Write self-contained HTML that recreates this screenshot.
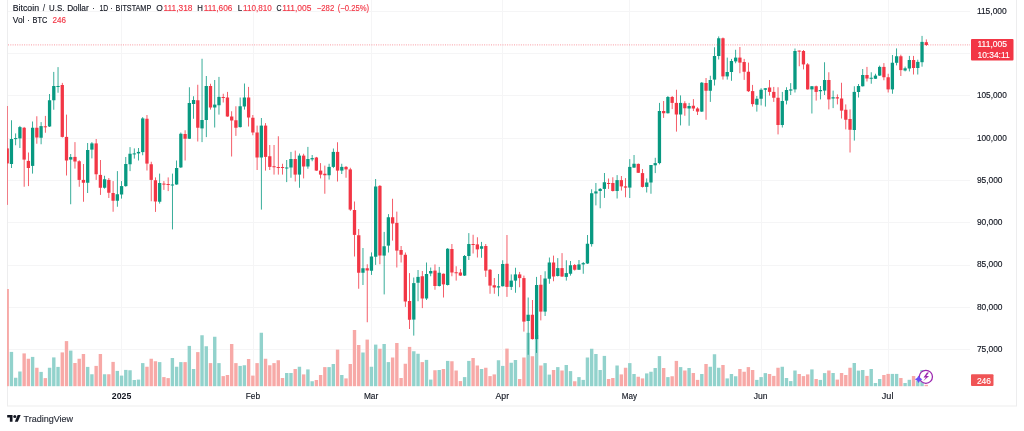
<!DOCTYPE html>
<html><head><meta charset="utf-8"><title>BTCUSD</title>
<style>
html,body{margin:0;padding:0;background:#ffffff;width:1024px;height:431px;overflow:hidden}
body{position:relative;font-family:"Liberation Sans",sans-serif;color:#131722}
svg{position:absolute;left:0;top:0}
.t{position:absolute;white-space:nowrap;line-height:1}
.hdr{font-size:8.6px;color:#131722}
.r{color:#f23645}
.ax{font-size:8.4px;color:#131722}
</style></head><body>
<svg width="1024" height="431" viewBox="0 0 1024 431">

<defs><clipPath id="pane"><rect x="7" y="0" width="963" height="386.4"/></clipPath></defs>
<rect x="8" y="11" width="962" height="1" fill="#f5f5f6"/>
<rect x="8" y="53" width="962" height="1" fill="#f5f5f6"/>
<rect x="8" y="95" width="962" height="1" fill="#f5f5f6"/>
<rect x="8" y="138" width="962" height="1" fill="#f5f5f6"/>
<rect x="8" y="180" width="962" height="1" fill="#f5f5f6"/>
<rect x="8" y="222" width="962" height="1" fill="#f5f5f6"/>
<rect x="8" y="265" width="962" height="1" fill="#f5f5f6"/>
<rect x="8" y="307" width="962" height="1" fill="#f5f5f6"/>
<rect x="8" y="349" width="962" height="1" fill="#f5f5f6"/>
<rect x="121" y="0" width="1" height="386" fill="#f5f5f6"/>
<rect x="253" y="0" width="1" height="386" fill="#f5f5f6"/>
<rect x="371" y="0" width="1" height="386" fill="#f5f5f6"/>
<rect x="502" y="0" width="1" height="386" fill="#f5f5f6"/>
<rect x="629" y="0" width="1" height="386" fill="#f5f5f6"/>
<rect x="761" y="0" width="1" height="386" fill="#f5f5f6"/>
<rect x="888" y="0" width="1" height="386" fill="#f5f5f6"/>
<rect x="7" y="0" width="1" height="406" fill="#ededee"/>
<rect x="1016" y="0" width="1" height="406" fill="#ededee"/>
<rect x="7" y="405.5" width="1010" height="1" fill="#ededee"/>
<g clip-path="url(#pane)">
<rect x="5.51" y="289.00" width="3.4" height="97.40" fill="#f7a9a7"/>
<rect x="9.74" y="351.90" width="3.4" height="34.50" fill="#92d2cc"/>
<rect x="13.98" y="377.75" width="3.4" height="8.65" fill="#92d2cc"/>
<rect x="18.21" y="371.50" width="3.4" height="14.90" fill="#92d2cc"/>
<rect x="22.45" y="353.40" width="3.4" height="33.00" fill="#f7a9a7"/>
<rect x="26.68" y="358.75" width="3.4" height="27.65" fill="#f7a9a7"/>
<rect x="30.92" y="356.90" width="3.4" height="29.50" fill="#92d2cc"/>
<rect x="35.15" y="367.75" width="3.4" height="18.65" fill="#f7a9a7"/>
<rect x="39.39" y="371.90" width="3.4" height="14.50" fill="#92d2cc"/>
<rect x="43.62" y="378.10" width="3.4" height="8.30" fill="#f7a9a7"/>
<rect x="47.86" y="367.75" width="3.4" height="18.65" fill="#92d2cc"/>
<rect x="52.10" y="357.40" width="3.4" height="29.00" fill="#92d2cc"/>
<rect x="56.33" y="366.90" width="3.4" height="19.50" fill="#92d2cc"/>
<rect x="60.57" y="352.40" width="3.4" height="34.00" fill="#f7a9a7"/>
<rect x="64.80" y="341.10" width="3.4" height="45.30" fill="#f7a9a7"/>
<rect x="69.04" y="350.60" width="3.4" height="35.80" fill="#92d2cc"/>
<rect x="73.27" y="363.00" width="3.4" height="23.40" fill="#f7a9a7"/>
<rect x="77.51" y="358.75" width="3.4" height="27.65" fill="#f7a9a7"/>
<rect x="81.74" y="354.00" width="3.4" height="32.40" fill="#f7a9a7"/>
<rect x="85.98" y="366.90" width="3.4" height="19.50" fill="#92d2cc"/>
<rect x="90.21" y="374.25" width="3.4" height="12.15" fill="#92d2cc"/>
<rect x="94.45" y="365.90" width="3.4" height="20.50" fill="#f7a9a7"/>
<rect x="98.68" y="354.00" width="3.4" height="32.40" fill="#f7a9a7"/>
<rect x="102.92" y="374.25" width="3.4" height="12.15" fill="#92d2cc"/>
<rect x="107.15" y="374.25" width="3.4" height="12.15" fill="#f7a9a7"/>
<rect x="111.39" y="361.90" width="3.4" height="24.50" fill="#f7a9a7"/>
<rect x="115.62" y="370.90" width="3.4" height="15.50" fill="#92d2cc"/>
<rect x="119.86" y="375.60" width="3.4" height="10.80" fill="#92d2cc"/>
<rect x="124.10" y="369.90" width="3.4" height="16.50" fill="#92d2cc"/>
<rect x="128.33" y="370.25" width="3.4" height="16.15" fill="#92d2cc"/>
<rect x="132.57" y="380.00" width="3.4" height="6.40" fill="#92d2cc"/>
<rect x="136.80" y="379.60" width="3.4" height="6.80" fill="#92d2cc"/>
<rect x="141.04" y="363.10" width="3.4" height="23.30" fill="#92d2cc"/>
<rect x="145.27" y="366.75" width="3.4" height="19.65" fill="#f7a9a7"/>
<rect x="149.51" y="358.75" width="3.4" height="27.65" fill="#f7a9a7"/>
<rect x="153.74" y="361.25" width="3.4" height="25.15" fill="#f7a9a7"/>
<rect x="157.98" y="362.10" width="3.4" height="24.30" fill="#92d2cc"/>
<rect x="162.21" y="377.10" width="3.4" height="9.30" fill="#f7a9a7"/>
<rect x="166.45" y="378.10" width="3.4" height="8.30" fill="#f7a9a7"/>
<rect x="170.68" y="358.00" width="3.4" height="28.40" fill="#92d2cc"/>
<rect x="174.92" y="366.75" width="3.4" height="19.65" fill="#92d2cc"/>
<rect x="179.15" y="362.10" width="3.4" height="24.30" fill="#92d2cc"/>
<rect x="183.39" y="362.10" width="3.4" height="24.30" fill="#f7a9a7"/>
<rect x="187.62" y="345.90" width="3.4" height="40.50" fill="#92d2cc"/>
<rect x="191.86" y="369.00" width="3.4" height="17.40" fill="#92d2cc"/>
<rect x="196.10" y="352.10" width="3.4" height="34.30" fill="#f7a9a7"/>
<rect x="200.33" y="335.25" width="3.4" height="51.15" fill="#92d2cc"/>
<rect x="204.57" y="346.25" width="3.4" height="40.15" fill="#92d2cc"/>
<rect x="208.80" y="363.10" width="3.4" height="23.30" fill="#f7a9a7"/>
<rect x="213.04" y="336.75" width="3.4" height="49.65" fill="#92d2cc"/>
<rect x="217.27" y="363.10" width="3.4" height="23.30" fill="#92d2cc"/>
<rect x="221.51" y="376.10" width="3.4" height="10.30" fill="#f7a9a7"/>
<rect x="225.74" y="375.00" width="3.4" height="11.40" fill="#f7a9a7"/>
<rect x="229.98" y="344.00" width="3.4" height="42.40" fill="#f7a9a7"/>
<rect x="234.21" y="363.10" width="3.4" height="23.30" fill="#f7a9a7"/>
<rect x="238.45" y="365.90" width="3.4" height="20.50" fill="#92d2cc"/>
<rect x="242.68" y="365.25" width="3.4" height="21.15" fill="#92d2cc"/>
<rect x="246.92" y="359.00" width="3.4" height="27.40" fill="#f7a9a7"/>
<rect x="251.15" y="375.60" width="3.4" height="10.80" fill="#f7a9a7"/>
<rect x="255.39" y="363.10" width="3.4" height="23.30" fill="#f7a9a7"/>
<rect x="259.62" y="332.75" width="3.4" height="53.65" fill="#92d2cc"/>
<rect x="263.86" y="358.75" width="3.4" height="27.65" fill="#f7a9a7"/>
<rect x="268.10" y="365.25" width="3.4" height="21.15" fill="#f7a9a7"/>
<rect x="272.33" y="363.10" width="3.4" height="23.30" fill="#f7a9a7"/>
<rect x="276.57" y="360.25" width="3.4" height="26.15" fill="#f7a9a7"/>
<rect x="280.80" y="378.00" width="3.4" height="8.40" fill="#f7a9a7"/>
<rect x="285.04" y="373.00" width="3.4" height="13.40" fill="#92d2cc"/>
<rect x="289.27" y="373.00" width="3.4" height="13.40" fill="#92d2cc"/>
<rect x="293.51" y="369.00" width="3.4" height="17.40" fill="#f7a9a7"/>
<rect x="297.74" y="366.75" width="3.4" height="19.65" fill="#92d2cc"/>
<rect x="301.98" y="374.40" width="3.4" height="12.00" fill="#f7a9a7"/>
<rect x="306.21" y="369.40" width="3.4" height="17.00" fill="#92d2cc"/>
<rect x="310.45" y="381.25" width="3.4" height="5.15" fill="#92d2cc"/>
<rect x="314.68" y="380.00" width="3.4" height="6.40" fill="#f7a9a7"/>
<rect x="318.92" y="375.00" width="3.4" height="11.40" fill="#f7a9a7"/>
<rect x="323.15" y="367.10" width="3.4" height="19.30" fill="#f7a9a7"/>
<rect x="327.39" y="367.10" width="3.4" height="19.30" fill="#92d2cc"/>
<rect x="331.62" y="364.00" width="3.4" height="22.40" fill="#92d2cc"/>
<rect x="335.86" y="349.60" width="3.4" height="36.80" fill="#f7a9a7"/>
<rect x="340.10" y="375.00" width="3.4" height="11.40" fill="#92d2cc"/>
<rect x="344.33" y="378.40" width="3.4" height="8.00" fill="#f7a9a7"/>
<rect x="348.57" y="364.00" width="3.4" height="22.40" fill="#f7a9a7"/>
<rect x="352.80" y="330.00" width="3.4" height="56.40" fill="#f7a9a7"/>
<rect x="357.04" y="345.00" width="3.4" height="41.40" fill="#f7a9a7"/>
<rect x="361.27" y="352.50" width="3.4" height="33.90" fill="#92d2cc"/>
<rect x="365.51" y="339.60" width="3.4" height="46.80" fill="#f7a9a7"/>
<rect x="369.74" y="366.75" width="3.4" height="19.65" fill="#92d2cc"/>
<rect x="373.98" y="344.60" width="3.4" height="41.80" fill="#92d2cc"/>
<rect x="378.21" y="348.75" width="3.4" height="37.65" fill="#f7a9a7"/>
<rect x="382.45" y="344.00" width="3.4" height="42.40" fill="#92d2cc"/>
<rect x="386.68" y="362.10" width="3.4" height="24.30" fill="#92d2cc"/>
<rect x="390.92" y="357.50" width="3.4" height="28.90" fill="#f7a9a7"/>
<rect x="395.15" y="343.00" width="3.4" height="43.40" fill="#f7a9a7"/>
<rect x="399.39" y="378.00" width="3.4" height="8.40" fill="#f7a9a7"/>
<rect x="403.63" y="363.75" width="3.4" height="22.65" fill="#f7a9a7"/>
<rect x="407.86" y="346.90" width="3.4" height="39.50" fill="#f7a9a7"/>
<rect x="412.10" y="351.25" width="3.4" height="35.15" fill="#92d2cc"/>
<rect x="416.33" y="353.75" width="3.4" height="32.65" fill="#92d2cc"/>
<rect x="420.57" y="362.10" width="3.4" height="24.30" fill="#f7a9a7"/>
<rect x="424.80" y="359.90" width="3.4" height="26.50" fill="#92d2cc"/>
<rect x="429.04" y="379.60" width="3.4" height="6.80" fill="#92d2cc"/>
<rect x="433.27" y="370.25" width="3.4" height="16.15" fill="#f7a9a7"/>
<rect x="437.51" y="370.00" width="3.4" height="16.40" fill="#92d2cc"/>
<rect x="441.74" y="369.00" width="3.4" height="17.40" fill="#f7a9a7"/>
<rect x="445.98" y="360.90" width="3.4" height="25.50" fill="#92d2cc"/>
<rect x="450.21" y="361.25" width="3.4" height="25.15" fill="#f7a9a7"/>
<rect x="454.45" y="370.50" width="3.4" height="15.90" fill="#f7a9a7"/>
<rect x="458.68" y="381.10" width="3.4" height="5.30" fill="#f7a9a7"/>
<rect x="462.92" y="377.10" width="3.4" height="9.30" fill="#92d2cc"/>
<rect x="467.15" y="360.90" width="3.4" height="25.50" fill="#92d2cc"/>
<rect x="471.39" y="358.00" width="3.4" height="28.40" fill="#f7a9a7"/>
<rect x="475.63" y="365.50" width="3.4" height="20.90" fill="#f7a9a7"/>
<rect x="479.86" y="369.00" width="3.4" height="17.40" fill="#92d2cc"/>
<rect x="484.10" y="367.75" width="3.4" height="18.65" fill="#f7a9a7"/>
<rect x="488.33" y="376.10" width="3.4" height="10.30" fill="#f7a9a7"/>
<rect x="492.57" y="374.40" width="3.4" height="12.00" fill="#f7a9a7"/>
<rect x="496.80" y="360.25" width="3.4" height="26.15" fill="#92d2cc"/>
<rect x="501.04" y="365.90" width="3.4" height="20.50" fill="#92d2cc"/>
<rect x="505.27" y="348.60" width="3.4" height="37.80" fill="#f7a9a7"/>
<rect x="509.51" y="362.75" width="3.4" height="23.65" fill="#92d2cc"/>
<rect x="513.74" y="360.00" width="3.4" height="26.40" fill="#92d2cc"/>
<rect x="517.98" y="379.00" width="3.4" height="7.40" fill="#f7a9a7"/>
<rect x="522.21" y="357.50" width="3.4" height="28.90" fill="#f7a9a7"/>
<rect x="526.45" y="332.80" width="3.4" height="53.60" fill="#92d2cc"/>
<rect x="530.68" y="356.25" width="3.4" height="30.15" fill="#f7a9a7"/>
<rect x="534.92" y="335.00" width="3.4" height="51.40" fill="#92d2cc"/>
<rect x="539.15" y="365.50" width="3.4" height="20.90" fill="#f7a9a7"/>
<rect x="543.39" y="363.10" width="3.4" height="23.30" fill="#92d2cc"/>
<rect x="547.63" y="374.60" width="3.4" height="11.80" fill="#92d2cc"/>
<rect x="551.86" y="370.00" width="3.4" height="16.40" fill="#f7a9a7"/>
<rect x="556.10" y="367.10" width="3.4" height="19.30" fill="#92d2cc"/>
<rect x="560.33" y="370.50" width="3.4" height="15.90" fill="#f7a9a7"/>
<rect x="564.57" y="365.00" width="3.4" height="21.40" fill="#92d2cc"/>
<rect x="568.80" y="371.10" width="3.4" height="15.30" fill="#92d2cc"/>
<rect x="573.04" y="381.25" width="3.4" height="5.15" fill="#f7a9a7"/>
<rect x="577.27" y="377.10" width="3.4" height="9.30" fill="#92d2cc"/>
<rect x="581.51" y="379.90" width="3.4" height="6.50" fill="#92d2cc"/>
<rect x="585.74" y="357.50" width="3.4" height="28.90" fill="#92d2cc"/>
<rect x="589.98" y="348.75" width="3.4" height="37.65" fill="#92d2cc"/>
<rect x="594.21" y="354.00" width="3.4" height="32.40" fill="#92d2cc"/>
<rect x="598.45" y="370.00" width="3.4" height="16.40" fill="#92d2cc"/>
<rect x="602.68" y="355.90" width="3.4" height="30.50" fill="#92d2cc"/>
<rect x="606.92" y="379.00" width="3.4" height="7.40" fill="#f7a9a7"/>
<rect x="611.15" y="378.00" width="3.4" height="8.40" fill="#f7a9a7"/>
<rect x="615.39" y="365.50" width="3.4" height="20.90" fill="#92d2cc"/>
<rect x="619.63" y="374.40" width="3.4" height="12.00" fill="#f7a9a7"/>
<rect x="623.86" y="367.75" width="3.4" height="18.65" fill="#f7a9a7"/>
<rect x="628.10" y="363.10" width="3.4" height="23.30" fill="#92d2cc"/>
<rect x="632.33" y="374.00" width="3.4" height="12.40" fill="#92d2cc"/>
<rect x="636.57" y="376.75" width="3.4" height="9.65" fill="#f7a9a7"/>
<rect x="640.80" y="378.40" width="3.4" height="8.00" fill="#f7a9a7"/>
<rect x="645.04" y="373.40" width="3.4" height="13.00" fill="#92d2cc"/>
<rect x="649.27" y="371.75" width="3.4" height="14.65" fill="#92d2cc"/>
<rect x="653.51" y="368.00" width="3.4" height="18.40" fill="#92d2cc"/>
<rect x="657.74" y="356.10" width="3.4" height="30.30" fill="#92d2cc"/>
<rect x="661.98" y="368.00" width="3.4" height="18.40" fill="#f7a9a7"/>
<rect x="666.21" y="377.10" width="3.4" height="9.30" fill="#92d2cc"/>
<rect x="670.45" y="376.25" width="3.4" height="10.15" fill="#f7a9a7"/>
<rect x="674.68" y="360.90" width="3.4" height="25.50" fill="#f7a9a7"/>
<rect x="678.92" y="367.10" width="3.4" height="19.30" fill="#92d2cc"/>
<rect x="683.15" y="370.50" width="3.4" height="15.90" fill="#f7a9a7"/>
<rect x="687.39" y="368.00" width="3.4" height="18.40" fill="#92d2cc"/>
<rect x="691.63" y="373.00" width="3.4" height="13.40" fill="#f7a9a7"/>
<rect x="695.86" y="379.90" width="3.4" height="6.50" fill="#f7a9a7"/>
<rect x="700.10" y="374.00" width="3.4" height="12.40" fill="#92d2cc"/>
<rect x="704.33" y="364.00" width="3.4" height="22.40" fill="#f7a9a7"/>
<rect x="708.57" y="366.75" width="3.4" height="19.65" fill="#92d2cc"/>
<rect x="712.80" y="354.25" width="3.4" height="32.15" fill="#92d2cc"/>
<rect x="717.04" y="367.75" width="3.4" height="18.65" fill="#92d2cc"/>
<rect x="721.27" y="365.00" width="3.4" height="21.40" fill="#f7a9a7"/>
<rect x="725.51" y="378.40" width="3.4" height="8.00" fill="#92d2cc"/>
<rect x="729.74" y="374.00" width="3.4" height="12.40" fill="#92d2cc"/>
<rect x="733.98" y="376.25" width="3.4" height="10.15" fill="#92d2cc"/>
<rect x="738.21" y="369.00" width="3.4" height="17.40" fill="#f7a9a7"/>
<rect x="742.45" y="371.75" width="3.4" height="14.65" fill="#f7a9a7"/>
<rect x="746.68" y="367.10" width="3.4" height="19.30" fill="#f7a9a7"/>
<rect x="750.92" y="370.00" width="3.4" height="16.40" fill="#f7a9a7"/>
<rect x="755.15" y="379.90" width="3.4" height="6.50" fill="#92d2cc"/>
<rect x="759.39" y="377.10" width="3.4" height="9.30" fill="#92d2cc"/>
<rect x="763.63" y="373.10" width="3.4" height="13.30" fill="#92d2cc"/>
<rect x="767.86" y="374.00" width="3.4" height="12.40" fill="#f7a9a7"/>
<rect x="772.10" y="375.90" width="3.4" height="10.50" fill="#f7a9a7"/>
<rect x="776.33" y="367.75" width="3.4" height="18.65" fill="#f7a9a7"/>
<rect x="780.57" y="366.75" width="3.4" height="19.65" fill="#92d2cc"/>
<rect x="784.80" y="378.00" width="3.4" height="8.40" fill="#92d2cc"/>
<rect x="789.04" y="381.10" width="3.4" height="5.30" fill="#92d2cc"/>
<rect x="793.27" y="370.50" width="3.4" height="15.90" fill="#92d2cc"/>
<rect x="797.51" y="374.00" width="3.4" height="12.40" fill="#f7a9a7"/>
<rect x="801.74" y="376.10" width="3.4" height="10.30" fill="#f7a9a7"/>
<rect x="805.98" y="374.40" width="3.4" height="12.00" fill="#f7a9a7"/>
<rect x="810.21" y="369.40" width="3.4" height="17.00" fill="#92d2cc"/>
<rect x="814.45" y="379.00" width="3.4" height="7.40" fill="#f7a9a7"/>
<rect x="818.68" y="379.90" width="3.4" height="6.50" fill="#92d2cc"/>
<rect x="822.92" y="373.10" width="3.4" height="13.30" fill="#92d2cc"/>
<rect x="827.16" y="370.50" width="3.4" height="15.90" fill="#f7a9a7"/>
<rect x="831.39" y="373.00" width="3.4" height="13.40" fill="#92d2cc"/>
<rect x="835.63" y="379.60" width="3.4" height="6.80" fill="#f7a9a7"/>
<rect x="839.86" y="373.00" width="3.4" height="13.40" fill="#f7a9a7"/>
<rect x="844.10" y="375.00" width="3.4" height="11.40" fill="#f7a9a7"/>
<rect x="848.33" y="367.75" width="3.4" height="18.65" fill="#f7a9a7"/>
<rect x="852.57" y="363.00" width="3.4" height="23.40" fill="#92d2cc"/>
<rect x="856.80" y="370.60" width="3.4" height="15.80" fill="#92d2cc"/>
<rect x="861.04" y="370.00" width="3.4" height="16.40" fill="#92d2cc"/>
<rect x="865.27" y="375.90" width="3.4" height="10.50" fill="#f7a9a7"/>
<rect x="869.51" y="369.00" width="3.4" height="17.40" fill="#92d2cc"/>
<rect x="873.74" y="383.00" width="3.4" height="3.40" fill="#92d2cc"/>
<rect x="877.98" y="379.00" width="3.4" height="7.40" fill="#92d2cc"/>
<rect x="882.21" y="375.00" width="3.4" height="11.40" fill="#f7a9a7"/>
<rect x="886.45" y="373.90" width="3.4" height="12.50" fill="#f7a9a7"/>
<rect x="890.68" y="373.90" width="3.4" height="12.50" fill="#92d2cc"/>
<rect x="894.92" y="373.90" width="3.4" height="12.50" fill="#92d2cc"/>
<rect x="899.16" y="378.00" width="3.4" height="8.40" fill="#f7a9a7"/>
<rect x="903.39" y="383.00" width="3.4" height="3.40" fill="#92d2cc"/>
<rect x="907.63" y="379.80" width="3.4" height="6.60" fill="#92d2cc"/>
<rect x="911.86" y="376.00" width="3.4" height="10.40" fill="#f7a9a7"/>
<rect x="916.10" y="380.75" width="3.4" height="5.65" fill="#92d2cc"/>
<rect x="920.33" y="370.00" width="3.4" height="16.40" fill="#92d2cc"/>
<rect x="924.57" y="384.80" width="3.4" height="1.60" fill="#f7a9a7"/>
<rect x="6.81" y="106.00" width="0.8" height="98.90" fill="#f23645"/>
<rect x="5.56" y="148.40" width="3.3" height="15.00" fill="#f23645"/>
<rect x="11.04" y="120.25" width="0.8" height="47.75" fill="#089981"/>
<rect x="9.79" y="139.00" width="3.3" height="25.00" fill="#089981"/>
<rect x="15.28" y="133.40" width="0.8" height="11.85" fill="#089981"/>
<rect x="14.03" y="138.10" width="3.3" height="1.00" fill="#089981"/>
<rect x="19.51" y="125.90" width="0.8" height="22.10" fill="#089981"/>
<rect x="18.26" y="127.10" width="3.3" height="11.30" fill="#089981"/>
<rect x="23.75" y="126.90" width="0.8" height="59.85" fill="#f23645"/>
<rect x="22.50" y="127.75" width="3.3" height="31.85" fill="#f23645"/>
<rect x="27.98" y="152.50" width="0.8" height="33.60" fill="#f23645"/>
<rect x="26.73" y="160.90" width="3.3" height="7.10" fill="#f23645"/>
<rect x="32.22" y="121.50" width="0.8" height="52.10" fill="#089981"/>
<rect x="30.97" y="127.75" width="3.3" height="38.15" fill="#089981"/>
<rect x="36.45" y="116.25" width="0.8" height="27.50" fill="#f23645"/>
<rect x="35.20" y="127.75" width="3.3" height="9.75" fill="#f23645"/>
<rect x="40.69" y="122.10" width="0.8" height="22.15" fill="#089981"/>
<rect x="39.44" y="126.10" width="3.3" height="11.65" fill="#089981"/>
<rect x="44.92" y="115.90" width="0.8" height="16.85" fill="#f23645"/>
<rect x="43.67" y="126.30" width="3.3" height="1.00" fill="#f23645"/>
<rect x="49.16" y="94.00" width="0.8" height="33.00" fill="#089981"/>
<rect x="47.91" y="100.25" width="3.3" height="26.25" fill="#089981"/>
<rect x="53.40" y="71.90" width="0.8" height="37.85" fill="#089981"/>
<rect x="52.15" y="86.00" width="3.3" height="14.25" fill="#089981"/>
<rect x="57.63" y="67.10" width="0.8" height="25.65" fill="#089981"/>
<rect x="56.38" y="86.00" width="3.3" height="1.00" fill="#089981"/>
<rect x="61.87" y="82.90" width="0.8" height="54.60" fill="#f23645"/>
<rect x="60.62" y="85.00" width="3.3" height="51.90" fill="#f23645"/>
<rect x="66.10" y="114.60" width="0.8" height="60.90" fill="#f23645"/>
<rect x="64.85" y="136.90" width="3.3" height="23.60" fill="#f23645"/>
<rect x="70.34" y="154.00" width="0.8" height="50.25" fill="#089981"/>
<rect x="69.09" y="157.10" width="3.3" height="2.50" fill="#089981"/>
<rect x="74.57" y="142.10" width="0.8" height="26.50" fill="#f23645"/>
<rect x="73.32" y="156.90" width="3.3" height="4.60" fill="#f23645"/>
<rect x="78.81" y="160.25" width="0.8" height="26.50" fill="#f23645"/>
<rect x="77.56" y="161.25" width="3.3" height="18.65" fill="#f23645"/>
<rect x="83.04" y="164.00" width="0.8" height="37.75" fill="#f23645"/>
<rect x="81.79" y="179.90" width="3.3" height="2.85" fill="#f23645"/>
<rect x="87.28" y="143.00" width="0.8" height="50.00" fill="#089981"/>
<rect x="86.03" y="150.00" width="3.3" height="32.75" fill="#089981"/>
<rect x="91.51" y="142.10" width="0.8" height="16.30" fill="#089981"/>
<rect x="90.26" y="143.40" width="3.3" height="6.20" fill="#089981"/>
<rect x="95.75" y="139.00" width="0.8" height="40.90" fill="#f23645"/>
<rect x="94.50" y="143.40" width="3.3" height="30.85" fill="#f23645"/>
<rect x="99.98" y="160.00" width="0.8" height="34.90" fill="#f23645"/>
<rect x="98.73" y="174.90" width="3.3" height="12.85" fill="#f23645"/>
<rect x="104.22" y="175.75" width="0.8" height="12.85" fill="#089981"/>
<rect x="102.97" y="179.25" width="3.3" height="8.50" fill="#089981"/>
<rect x="108.45" y="178.00" width="0.8" height="20.00" fill="#f23645"/>
<rect x="107.20" y="179.90" width="3.3" height="12.85" fill="#f23645"/>
<rect x="112.69" y="181.10" width="0.8" height="30.65" fill="#f23645"/>
<rect x="111.44" y="193.00" width="3.3" height="7.75" fill="#f23645"/>
<rect x="116.92" y="171.10" width="0.8" height="35.65" fill="#089981"/>
<rect x="115.67" y="194.25" width="3.3" height="6.50" fill="#089981"/>
<rect x="121.16" y="181.10" width="0.8" height="17.50" fill="#089981"/>
<rect x="119.91" y="186.10" width="3.3" height="8.40" fill="#089981"/>
<rect x="125.40" y="157.00" width="0.8" height="29.75" fill="#089981"/>
<rect x="124.15" y="164.00" width="3.3" height="22.10" fill="#089981"/>
<rect x="129.63" y="147.10" width="0.8" height="24.00" fill="#089981"/>
<rect x="128.38" y="153.75" width="3.3" height="10.50" fill="#089981"/>
<rect x="133.87" y="148.40" width="0.8" height="10.20" fill="#089981"/>
<rect x="132.62" y="153.40" width="3.3" height="1.00" fill="#089981"/>
<rect x="138.10" y="148.00" width="0.8" height="12.50" fill="#089981"/>
<rect x="136.85" y="151.90" width="3.3" height="1.50" fill="#089981"/>
<rect x="142.34" y="117.10" width="0.8" height="38.15" fill="#089981"/>
<rect x="141.09" y="118.40" width="3.3" height="33.70" fill="#089981"/>
<rect x="146.57" y="115.00" width="0.8" height="55.50" fill="#f23645"/>
<rect x="145.32" y="118.75" width="3.3" height="44.85" fill="#f23645"/>
<rect x="150.81" y="161.75" width="0.8" height="39.50" fill="#f23645"/>
<rect x="149.56" y="164.25" width="3.3" height="15.65" fill="#f23645"/>
<rect x="155.04" y="177.40" width="0.8" height="34.50" fill="#f23645"/>
<rect x="153.79" y="180.25" width="3.3" height="21.25" fill="#f23645"/>
<rect x="159.28" y="173.60" width="0.8" height="30.00" fill="#089981"/>
<rect x="158.03" y="183.00" width="3.3" height="18.75" fill="#089981"/>
<rect x="163.51" y="181.10" width="0.8" height="8.80" fill="#f23645"/>
<rect x="162.26" y="183.60" width="3.3" height="1.00" fill="#f23645"/>
<rect x="167.75" y="177.40" width="0.8" height="13.70" fill="#f23645"/>
<rect x="166.50" y="184.00" width="3.3" height="1.00" fill="#f23645"/>
<rect x="171.98" y="173.60" width="0.8" height="55.80" fill="#089981"/>
<rect x="170.73" y="184.50" width="3.3" height="1.00" fill="#089981"/>
<rect x="176.22" y="160.50" width="0.8" height="24.30" fill="#089981"/>
<rect x="174.97" y="168.00" width="3.3" height="16.50" fill="#089981"/>
<rect x="180.45" y="132.50" width="0.8" height="35.50" fill="#089981"/>
<rect x="179.20" y="133.75" width="3.3" height="33.65" fill="#089981"/>
<rect x="184.69" y="130.25" width="0.8" height="30.25" fill="#f23645"/>
<rect x="183.44" y="134.00" width="3.3" height="4.75" fill="#f23645"/>
<rect x="188.92" y="87.25" width="0.8" height="51.75" fill="#089981"/>
<rect x="187.67" y="103.00" width="3.3" height="35.75" fill="#089981"/>
<rect x="193.16" y="96.25" width="0.8" height="22.50" fill="#089981"/>
<rect x="191.91" y="100.00" width="3.3" height="4.00" fill="#089981"/>
<rect x="197.40" y="84.75" width="0.8" height="56.75" fill="#f23645"/>
<rect x="196.15" y="100.25" width="3.3" height="27.50" fill="#f23645"/>
<rect x="201.63" y="58.75" width="0.8" height="83.35" fill="#089981"/>
<rect x="200.38" y="120.00" width="3.3" height="8.40" fill="#089981"/>
<rect x="205.87" y="76.00" width="0.8" height="61.10" fill="#089981"/>
<rect x="204.62" y="86.00" width="3.3" height="34.00" fill="#089981"/>
<rect x="210.10" y="83.75" width="0.8" height="25.85" fill="#f23645"/>
<rect x="208.85" y="86.00" width="3.3" height="21.50" fill="#f23645"/>
<rect x="214.34" y="80.00" width="0.8" height="47.50" fill="#089981"/>
<rect x="213.09" y="104.60" width="3.3" height="2.90" fill="#089981"/>
<rect x="218.57" y="76.90" width="0.8" height="37.70" fill="#089981"/>
<rect x="217.32" y="96.90" width="3.3" height="8.35" fill="#089981"/>
<rect x="222.81" y="93.75" width="0.8" height="8.75" fill="#f23645"/>
<rect x="221.56" y="97.00" width="3.3" height="1.00" fill="#f23645"/>
<rect x="227.04" y="91.90" width="0.8" height="24.90" fill="#f23645"/>
<rect x="225.79" y="97.50" width="3.3" height="19.00" fill="#f23645"/>
<rect x="231.28" y="111.25" width="0.8" height="45.25" fill="#f23645"/>
<rect x="230.03" y="116.50" width="3.3" height="4.00" fill="#f23645"/>
<rect x="235.51" y="106.25" width="0.8" height="29.65" fill="#f23645"/>
<rect x="234.26" y="120.25" width="3.3" height="7.50" fill="#f23645"/>
<rect x="239.75" y="97.50" width="0.8" height="30.00" fill="#089981"/>
<rect x="238.50" y="106.25" width="3.3" height="20.85" fill="#089981"/>
<rect x="243.98" y="83.50" width="0.8" height="26.10" fill="#089981"/>
<rect x="242.73" y="97.50" width="3.3" height="9.00" fill="#089981"/>
<rect x="248.22" y="86.90" width="0.8" height="39.60" fill="#f23645"/>
<rect x="246.97" y="97.50" width="3.3" height="20.00" fill="#f23645"/>
<rect x="252.45" y="115.00" width="0.8" height="20.25" fill="#f23645"/>
<rect x="251.20" y="117.75" width="3.3" height="14.75" fill="#f23645"/>
<rect x="256.69" y="125.60" width="0.8" height="44.40" fill="#f23645"/>
<rect x="255.44" y="132.50" width="3.3" height="25.00" fill="#f23645"/>
<rect x="260.92" y="118.00" width="0.8" height="91.60" fill="#089981"/>
<rect x="259.67" y="125.60" width="3.3" height="31.90" fill="#089981"/>
<rect x="265.16" y="123.10" width="0.8" height="47.50" fill="#f23645"/>
<rect x="263.91" y="125.60" width="3.3" height="31.30" fill="#f23645"/>
<rect x="269.40" y="145.00" width="0.8" height="25.00" fill="#f23645"/>
<rect x="268.15" y="156.25" width="3.3" height="10.65" fill="#f23645"/>
<rect x="273.63" y="145.00" width="0.8" height="29.60" fill="#f23645"/>
<rect x="272.38" y="166.25" width="3.3" height="1.00" fill="#f23645"/>
<rect x="277.87" y="136.25" width="0.8" height="38.35" fill="#f23645"/>
<rect x="276.62" y="167.00" width="3.3" height="1.00" fill="#f23645"/>
<rect x="282.10" y="163.75" width="0.8" height="10.85" fill="#f23645"/>
<rect x="280.85" y="167.00" width="3.3" height="1.00" fill="#f23645"/>
<rect x="286.34" y="160.00" width="0.8" height="22.10" fill="#089981"/>
<rect x="285.09" y="167.50" width="3.3" height="1.00" fill="#089981"/>
<rect x="290.57" y="151.90" width="0.8" height="25.85" fill="#089981"/>
<rect x="289.32" y="159.00" width="3.3" height="8.50" fill="#089981"/>
<rect x="294.81" y="150.60" width="0.8" height="30.90" fill="#f23645"/>
<rect x="293.56" y="159.00" width="3.3" height="15.60" fill="#f23645"/>
<rect x="299.04" y="153.50" width="0.8" height="34.25" fill="#089981"/>
<rect x="297.79" y="155.60" width="3.3" height="19.00" fill="#089981"/>
<rect x="303.28" y="153.75" width="0.8" height="24.65" fill="#f23645"/>
<rect x="302.03" y="155.60" width="3.3" height="10.90" fill="#f23645"/>
<rect x="307.51" y="146.90" width="0.8" height="21.85" fill="#089981"/>
<rect x="306.26" y="159.00" width="3.3" height="7.50" fill="#089981"/>
<rect x="311.75" y="155.00" width="0.8" height="6.25" fill="#089981"/>
<rect x="310.50" y="158.10" width="3.3" height="1.30" fill="#089981"/>
<rect x="315.98" y="156.90" width="0.8" height="13.90" fill="#f23645"/>
<rect x="314.73" y="157.50" width="3.3" height="13.10" fill="#f23645"/>
<rect x="320.22" y="163.10" width="0.8" height="15.30" fill="#f23645"/>
<rect x="318.97" y="170.60" width="3.3" height="4.00" fill="#f23645"/>
<rect x="324.45" y="165.60" width="0.8" height="28.15" fill="#f23645"/>
<rect x="323.20" y="173.75" width="3.3" height="1.50" fill="#f23645"/>
<rect x="328.69" y="163.75" width="0.8" height="15.85" fill="#089981"/>
<rect x="327.44" y="166.90" width="3.3" height="8.35" fill="#089981"/>
<rect x="332.93" y="148.50" width="0.8" height="19.60" fill="#089981"/>
<rect x="331.68" y="151.90" width="3.3" height="15.00" fill="#089981"/>
<rect x="337.16" y="142.25" width="0.8" height="39.25" fill="#f23645"/>
<rect x="335.91" y="151.90" width="3.3" height="18.70" fill="#f23645"/>
<rect x="341.40" y="163.75" width="0.8" height="10.25" fill="#089981"/>
<rect x="340.15" y="166.90" width="3.3" height="3.70" fill="#089981"/>
<rect x="345.63" y="166.00" width="0.8" height="11.75" fill="#f23645"/>
<rect x="344.38" y="166.90" width="3.3" height="2.50" fill="#f23645"/>
<rect x="349.87" y="167.75" width="0.8" height="43.15" fill="#f23645"/>
<rect x="348.62" y="169.40" width="3.3" height="40.20" fill="#f23645"/>
<rect x="354.10" y="201.50" width="0.8" height="55.00" fill="#f23645"/>
<rect x="352.85" y="210.00" width="3.3" height="24.90" fill="#f23645"/>
<rect x="358.34" y="229.00" width="0.8" height="59.75" fill="#f23645"/>
<rect x="357.09" y="235.25" width="3.3" height="37.50" fill="#f23645"/>
<rect x="362.57" y="248.00" width="0.8" height="37.00" fill="#089981"/>
<rect x="361.32" y="268.25" width="3.3" height="4.50" fill="#089981"/>
<rect x="366.81" y="264.25" width="0.8" height="58.00" fill="#f23645"/>
<rect x="365.56" y="268.25" width="3.3" height="2.25" fill="#f23645"/>
<rect x="371.04" y="252.40" width="0.8" height="22.50" fill="#089981"/>
<rect x="369.79" y="256.50" width="3.3" height="14.25" fill="#089981"/>
<rect x="375.28" y="179.00" width="0.8" height="85.90" fill="#089981"/>
<rect x="374.03" y="186.50" width="3.3" height="70.25" fill="#089981"/>
<rect x="379.51" y="185.00" width="0.8" height="79.25" fill="#f23645"/>
<rect x="378.26" y="185.90" width="3.3" height="69.60" fill="#f23645"/>
<rect x="383.75" y="231.90" width="0.8" height="62.50" fill="#089981"/>
<rect x="382.50" y="246.25" width="3.3" height="9.35" fill="#089981"/>
<rect x="387.98" y="214.10" width="0.8" height="38.40" fill="#089981"/>
<rect x="386.73" y="217.25" width="3.3" height="28.35" fill="#089981"/>
<rect x="392.22" y="198.75" width="0.8" height="41.85" fill="#f23645"/>
<rect x="390.97" y="217.25" width="3.3" height="6.25" fill="#f23645"/>
<rect x="396.45" y="211.60" width="0.8" height="55.90" fill="#f23645"/>
<rect x="395.20" y="222.90" width="3.3" height="27.70" fill="#f23645"/>
<rect x="400.69" y="246.00" width="0.8" height="16.50" fill="#f23645"/>
<rect x="399.44" y="250.00" width="3.3" height="4.75" fill="#f23645"/>
<rect x="404.93" y="252.50" width="0.8" height="54.40" fill="#f23645"/>
<rect x="403.68" y="254.75" width="3.3" height="46.75" fill="#f23645"/>
<rect x="409.16" y="273.10" width="0.8" height="55.90" fill="#f23645"/>
<rect x="407.91" y="301.00" width="3.3" height="18.75" fill="#f23645"/>
<rect x="413.40" y="277.50" width="0.8" height="58.10" fill="#089981"/>
<rect x="412.15" y="283.10" width="3.3" height="36.50" fill="#089981"/>
<rect x="417.63" y="270.00" width="0.8" height="31.25" fill="#089981"/>
<rect x="416.38" y="276.90" width="3.3" height="5.85" fill="#089981"/>
<rect x="421.87" y="271.00" width="0.8" height="37.10" fill="#f23645"/>
<rect x="420.62" y="276.25" width="3.3" height="22.25" fill="#f23645"/>
<rect x="426.10" y="262.50" width="0.8" height="37.50" fill="#089981"/>
<rect x="424.85" y="274.00" width="3.3" height="24.50" fill="#089981"/>
<rect x="430.34" y="267.50" width="0.8" height="8.75" fill="#089981"/>
<rect x="429.09" y="271.00" width="3.3" height="2.50" fill="#089981"/>
<rect x="434.57" y="264.40" width="0.8" height="25.35" fill="#f23645"/>
<rect x="433.32" y="270.60" width="3.3" height="15.40" fill="#f23645"/>
<rect x="438.81" y="266.90" width="0.8" height="19.60" fill="#089981"/>
<rect x="437.56" y="272.75" width="3.3" height="13.25" fill="#089981"/>
<rect x="443.04" y="273.50" width="0.8" height="24.00" fill="#f23645"/>
<rect x="441.79" y="273.75" width="3.3" height="10.65" fill="#f23645"/>
<rect x="447.28" y="248.10" width="0.8" height="37.40" fill="#089981"/>
<rect x="446.03" y="248.75" width="3.3" height="36.25" fill="#089981"/>
<rect x="451.51" y="244.00" width="0.8" height="32.25" fill="#f23645"/>
<rect x="450.26" y="249.00" width="3.3" height="23.50" fill="#f23645"/>
<rect x="455.75" y="266.25" width="0.8" height="14.35" fill="#f23645"/>
<rect x="454.50" y="272.25" width="3.3" height="1.00" fill="#f23645"/>
<rect x="459.98" y="269.00" width="0.8" height="7.00" fill="#f23645"/>
<rect x="458.73" y="272.50" width="3.3" height="3.10" fill="#f23645"/>
<rect x="464.22" y="255.00" width="0.8" height="21.00" fill="#089981"/>
<rect x="462.97" y="256.00" width="3.3" height="19.60" fill="#089981"/>
<rect x="468.45" y="233.10" width="0.8" height="26.90" fill="#089981"/>
<rect x="467.20" y="244.00" width="3.3" height="12.00" fill="#089981"/>
<rect x="472.69" y="234.75" width="0.8" height="18.75" fill="#f23645"/>
<rect x="471.44" y="244.00" width="3.3" height="1.00" fill="#f23645"/>
<rect x="476.93" y="237.25" width="0.8" height="20.25" fill="#f23645"/>
<rect x="475.68" y="244.40" width="3.3" height="5.00" fill="#f23645"/>
<rect x="481.16" y="241.90" width="0.8" height="15.85" fill="#089981"/>
<rect x="479.91" y="246.25" width="3.3" height="2.50" fill="#089981"/>
<rect x="485.40" y="244.00" width="0.8" height="32.90" fill="#f23645"/>
<rect x="484.15" y="246.00" width="3.3" height="24.60" fill="#f23645"/>
<rect x="489.63" y="269.00" width="0.8" height="24.75" fill="#f23645"/>
<rect x="488.38" y="269.75" width="3.3" height="15.85" fill="#f23645"/>
<rect x="493.87" y="278.00" width="0.8" height="15.75" fill="#f23645"/>
<rect x="492.62" y="285.25" width="3.3" height="2.25" fill="#f23645"/>
<rect x="498.10" y="274.00" width="0.8" height="22.25" fill="#089981"/>
<rect x="496.85" y="286.25" width="3.3" height="1.25" fill="#089981"/>
<rect x="502.34" y="260.25" width="0.8" height="26.25" fill="#089981"/>
<rect x="501.09" y="264.00" width="3.3" height="22.25" fill="#089981"/>
<rect x="506.57" y="235.00" width="0.8" height="61.90" fill="#f23645"/>
<rect x="505.32" y="263.75" width="3.3" height="23.15" fill="#f23645"/>
<rect x="510.81" y="274.40" width="0.8" height="15.60" fill="#089981"/>
<rect x="509.56" y="280.60" width="3.3" height="6.30" fill="#089981"/>
<rect x="515.04" y="267.75" width="0.8" height="25.00" fill="#089981"/>
<rect x="513.79" y="274.40" width="3.3" height="6.20" fill="#089981"/>
<rect x="519.28" y="271.90" width="0.8" height="15.35" fill="#f23645"/>
<rect x="518.03" y="274.40" width="3.3" height="3.70" fill="#f23645"/>
<rect x="523.51" y="275.60" width="0.8" height="56.00" fill="#f23645"/>
<rect x="522.26" y="278.10" width="3.3" height="43.50" fill="#f23645"/>
<rect x="527.75" y="297.50" width="0.8" height="57.25" fill="#089981"/>
<rect x="526.50" y="314.75" width="3.3" height="6.25" fill="#089981"/>
<rect x="531.98" y="300.00" width="0.8" height="39.50" fill="#f23645"/>
<rect x="530.73" y="314.75" width="3.3" height="24.35" fill="#f23645"/>
<rect x="536.22" y="276.90" width="0.8" height="76.00" fill="#089981"/>
<rect x="534.97" y="285.00" width="3.3" height="54.10" fill="#089981"/>
<rect x="540.45" y="275.00" width="0.8" height="45.40" fill="#f23645"/>
<rect x="539.20" y="284.75" width="3.3" height="26.85" fill="#f23645"/>
<rect x="544.69" y="271.25" width="0.8" height="44.75" fill="#089981"/>
<rect x="543.44" y="278.50" width="3.3" height="33.10" fill="#089981"/>
<rect x="548.93" y="257.50" width="0.8" height="26.25" fill="#089981"/>
<rect x="547.68" y="262.50" width="3.3" height="16.25" fill="#089981"/>
<rect x="553.16" y="255.60" width="0.8" height="25.65" fill="#f23645"/>
<rect x="551.91" y="262.50" width="3.3" height="14.00" fill="#f23645"/>
<rect x="557.40" y="258.10" width="0.8" height="18.40" fill="#089981"/>
<rect x="556.15" y="268.10" width="3.3" height="7.90" fill="#089981"/>
<rect x="561.63" y="253.10" width="0.8" height="23.90" fill="#f23645"/>
<rect x="560.38" y="268.10" width="3.3" height="8.40" fill="#f23645"/>
<rect x="565.87" y="260.25" width="0.8" height="20.35" fill="#089981"/>
<rect x="564.62" y="273.10" width="3.3" height="3.80" fill="#089981"/>
<rect x="570.10" y="261.00" width="0.8" height="14.60" fill="#089981"/>
<rect x="568.85" y="265.25" width="3.3" height="8.50" fill="#089981"/>
<rect x="574.34" y="264.00" width="0.8" height="6.60" fill="#f23645"/>
<rect x="573.09" y="265.00" width="3.3" height="4.75" fill="#f23645"/>
<rect x="578.57" y="260.00" width="0.8" height="10.00" fill="#089981"/>
<rect x="577.32" y="264.40" width="3.3" height="5.35" fill="#089981"/>
<rect x="582.81" y="262.00" width="0.8" height="11.75" fill="#089981"/>
<rect x="581.56" y="263.10" width="3.3" height="1.30" fill="#089981"/>
<rect x="587.04" y="235.00" width="0.8" height="29.00" fill="#089981"/>
<rect x="585.79" y="243.75" width="3.3" height="19.75" fill="#089981"/>
<rect x="591.28" y="189.25" width="0.8" height="57.35" fill="#089981"/>
<rect x="590.03" y="193.25" width="3.3" height="50.85" fill="#089981"/>
<rect x="595.51" y="183.00" width="0.8" height="22.40" fill="#089981"/>
<rect x="594.26" y="191.40" width="3.3" height="2.10" fill="#089981"/>
<rect x="599.75" y="188.00" width="0.8" height="20.25" fill="#089981"/>
<rect x="598.50" y="188.90" width="3.3" height="2.10" fill="#089981"/>
<rect x="603.98" y="173.00" width="0.8" height="24.90" fill="#089981"/>
<rect x="602.73" y="182.25" width="3.3" height="6.65" fill="#089981"/>
<rect x="608.22" y="178.50" width="0.8" height="10.40" fill="#f23645"/>
<rect x="606.97" y="183.00" width="3.3" height="1.00" fill="#f23645"/>
<rect x="612.45" y="177.25" width="0.8" height="14.25" fill="#f23645"/>
<rect x="611.20" y="183.00" width="3.3" height="8.00" fill="#f23645"/>
<rect x="616.69" y="175.10" width="0.8" height="23.40" fill="#089981"/>
<rect x="615.44" y="180.10" width="3.3" height="10.90" fill="#089981"/>
<rect x="620.93" y="176.00" width="0.8" height="14.60" fill="#f23645"/>
<rect x="619.68" y="180.10" width="3.3" height="6.30" fill="#f23645"/>
<rect x="625.16" y="178.10" width="0.8" height="19.15" fill="#f23645"/>
<rect x="623.91" y="186.40" width="3.3" height="1.20" fill="#f23645"/>
<rect x="629.40" y="159.10" width="0.8" height="38.90" fill="#089981"/>
<rect x="628.15" y="166.90" width="3.3" height="20.70" fill="#089981"/>
<rect x="633.63" y="155.00" width="0.8" height="13.00" fill="#089981"/>
<rect x="632.38" y="163.75" width="3.3" height="3.85" fill="#089981"/>
<rect x="637.87" y="163.50" width="0.8" height="9.50" fill="#f23645"/>
<rect x="636.62" y="163.90" width="3.3" height="8.90" fill="#f23645"/>
<rect x="642.10" y="169.00" width="0.8" height="18.50" fill="#f23645"/>
<rect x="640.85" y="173.10" width="3.3" height="13.80" fill="#f23645"/>
<rect x="646.34" y="178.40" width="0.8" height="14.10" fill="#089981"/>
<rect x="645.09" y="182.50" width="3.3" height="4.40" fill="#089981"/>
<rect x="650.57" y="165.00" width="0.8" height="28.75" fill="#089981"/>
<rect x="649.32" y="165.00" width="3.3" height="17.50" fill="#089981"/>
<rect x="654.81" y="157.80" width="0.8" height="15.30" fill="#089981"/>
<rect x="653.56" y="163.10" width="3.3" height="2.20" fill="#089981"/>
<rect x="659.04" y="102.90" width="0.8" height="61.50" fill="#089981"/>
<rect x="657.79" y="111.00" width="3.3" height="52.10" fill="#089981"/>
<rect x="663.28" y="101.00" width="0.8" height="16.90" fill="#f23645"/>
<rect x="662.03" y="111.00" width="3.3" height="2.25" fill="#f23645"/>
<rect x="667.51" y="96.00" width="0.8" height="17.50" fill="#089981"/>
<rect x="666.26" y="97.00" width="3.3" height="16.25" fill="#089981"/>
<rect x="671.75" y="96.00" width="0.8" height="13.10" fill="#f23645"/>
<rect x="670.50" y="97.00" width="3.3" height="5.90" fill="#f23645"/>
<rect x="675.98" y="89.75" width="0.8" height="41.85" fill="#f23645"/>
<rect x="674.73" y="102.90" width="3.3" height="11.60" fill="#f23645"/>
<rect x="680.22" y="95.40" width="0.8" height="30.00" fill="#089981"/>
<rect x="678.97" y="102.90" width="3.3" height="11.60" fill="#089981"/>
<rect x="684.45" y="101.25" width="0.8" height="14.50" fill="#f23645"/>
<rect x="683.20" y="103.25" width="3.3" height="5.00" fill="#f23645"/>
<rect x="688.69" y="102.90" width="0.8" height="22.85" fill="#089981"/>
<rect x="687.44" y="106.00" width="3.3" height="2.50" fill="#089981"/>
<rect x="692.93" y="99.10" width="0.8" height="11.90" fill="#f23645"/>
<rect x="691.68" y="105.75" width="3.3" height="2.75" fill="#f23645"/>
<rect x="697.16" y="107.25" width="0.8" height="7.75" fill="#f23645"/>
<rect x="695.91" y="108.50" width="3.3" height="3.10" fill="#f23645"/>
<rect x="701.40" y="82.00" width="0.8" height="30.00" fill="#089981"/>
<rect x="700.15" y="82.70" width="3.3" height="28.90" fill="#089981"/>
<rect x="705.63" y="78.00" width="0.8" height="41.75" fill="#f23645"/>
<rect x="704.38" y="83.00" width="3.3" height="7.75" fill="#f23645"/>
<rect x="709.87" y="75.75" width="0.8" height="26.15" fill="#089981"/>
<rect x="708.62" y="80.00" width="3.3" height="10.75" fill="#089981"/>
<rect x="714.10" y="47.25" width="0.8" height="38.25" fill="#089981"/>
<rect x="712.85" y="56.00" width="3.3" height="23.60" fill="#089981"/>
<rect x="718.34" y="36.40" width="0.8" height="23.10" fill="#089981"/>
<rect x="717.09" y="38.25" width="3.3" height="17.75" fill="#089981"/>
<rect x="722.57" y="37.50" width="0.8" height="42.10" fill="#f23645"/>
<rect x="721.32" y="38.25" width="3.3" height="38.15" fill="#f23645"/>
<rect x="726.81" y="57.60" width="0.8" height="22.00" fill="#089981"/>
<rect x="725.56" y="72.00" width="3.3" height="4.40" fill="#089981"/>
<rect x="731.04" y="58.90" width="0.8" height="21.90" fill="#089981"/>
<rect x="729.79" y="61.00" width="3.3" height="11.00" fill="#089981"/>
<rect x="735.28" y="49.75" width="0.8" height="13.50" fill="#089981"/>
<rect x="734.03" y="57.60" width="3.3" height="3.80" fill="#089981"/>
<rect x="739.51" y="47.00" width="0.8" height="26.25" fill="#f23645"/>
<rect x="738.26" y="57.60" width="3.3" height="5.00" fill="#f23645"/>
<rect x="743.75" y="58.90" width="0.8" height="21.00" fill="#f23645"/>
<rect x="742.50" y="62.00" width="3.3" height="9.75" fill="#f23645"/>
<rect x="747.98" y="62.60" width="0.8" height="29.40" fill="#f23645"/>
<rect x="746.73" y="71.75" width="3.3" height="19.45" fill="#f23645"/>
<rect x="752.22" y="84.90" width="0.8" height="21.70" fill="#f23645"/>
<rect x="750.97" y="91.10" width="3.3" height="13.00" fill="#f23645"/>
<rect x="756.46" y="96.00" width="0.8" height="15.60" fill="#089981"/>
<rect x="755.21" y="98.75" width="3.3" height="6.00" fill="#089981"/>
<rect x="760.69" y="88.25" width="0.8" height="17.15" fill="#089981"/>
<rect x="759.44" y="89.75" width="3.3" height="9.00" fill="#089981"/>
<rect x="764.93" y="88.25" width="0.8" height="18.35" fill="#089981"/>
<rect x="763.68" y="88.25" width="3.3" height="1.50" fill="#089981"/>
<rect x="769.16" y="80.00" width="0.8" height="15.60" fill="#f23645"/>
<rect x="767.91" y="87.50" width="3.3" height="4.40" fill="#f23645"/>
<rect x="773.40" y="86.90" width="0.8" height="15.00" fill="#f23645"/>
<rect x="772.15" y="91.90" width="3.3" height="5.85" fill="#f23645"/>
<rect x="777.63" y="87.25" width="0.8" height="47.15" fill="#f23645"/>
<rect x="776.38" y="97.75" width="3.3" height="27.25" fill="#f23645"/>
<rect x="781.87" y="91.90" width="0.8" height="35.60" fill="#089981"/>
<rect x="780.62" y="101.00" width="3.3" height="24.00" fill="#089981"/>
<rect x="786.10" y="87.25" width="0.8" height="17.15" fill="#089981"/>
<rect x="784.85" y="90.00" width="3.3" height="10.60" fill="#089981"/>
<rect x="790.34" y="83.10" width="0.8" height="11.90" fill="#089981"/>
<rect x="789.09" y="89.40" width="3.3" height="1.20" fill="#089981"/>
<rect x="794.57" y="48.50" width="0.8" height="44.00" fill="#089981"/>
<rect x="793.32" y="51.00" width="3.3" height="38.40" fill="#089981"/>
<rect x="798.81" y="50.50" width="0.8" height="15.75" fill="#f23645"/>
<rect x="797.56" y="50.60" width="3.3" height="1.00" fill="#f23645"/>
<rect x="803.04" y="50.00" width="0.8" height="19.40" fill="#f23645"/>
<rect x="801.79" y="51.00" width="3.3" height="13.40" fill="#f23645"/>
<rect x="807.28" y="63.10" width="0.8" height="26.50" fill="#f23645"/>
<rect x="806.03" y="64.40" width="3.3" height="25.00" fill="#f23645"/>
<rect x="811.51" y="86.00" width="0.8" height="27.50" fill="#089981"/>
<rect x="810.26" y="86.25" width="3.3" height="3.15" fill="#089981"/>
<rect x="815.75" y="85.60" width="0.8" height="15.00" fill="#f23645"/>
<rect x="814.50" y="86.25" width="3.3" height="5.65" fill="#f23645"/>
<rect x="819.98" y="86.00" width="0.8" height="13.40" fill="#089981"/>
<rect x="818.73" y="90.00" width="3.3" height="1.25" fill="#089981"/>
<rect x="824.22" y="62.25" width="0.8" height="32.75" fill="#089981"/>
<rect x="822.97" y="80.00" width="3.3" height="10.60" fill="#089981"/>
<rect x="828.46" y="72.25" width="0.8" height="37.15" fill="#f23645"/>
<rect x="827.21" y="80.00" width="3.3" height="19.40" fill="#f23645"/>
<rect x="832.69" y="90.60" width="0.8" height="17.50" fill="#089981"/>
<rect x="831.44" y="97.25" width="3.3" height="1.25" fill="#089981"/>
<rect x="836.93" y="94.40" width="0.8" height="10.00" fill="#f23645"/>
<rect x="835.68" y="97.25" width="3.3" height="1.25" fill="#f23645"/>
<rect x="841.16" y="82.75" width="0.8" height="35.75" fill="#f23645"/>
<rect x="839.91" y="98.50" width="3.3" height="12.10" fill="#f23645"/>
<rect x="845.40" y="104.40" width="0.8" height="25.00" fill="#f23645"/>
<rect x="844.15" y="109.75" width="3.3" height="10.00" fill="#f23645"/>
<rect x="849.63" y="109.40" width="0.8" height="43.10" fill="#f23645"/>
<rect x="848.38" y="119.00" width="3.3" height="10.75" fill="#f23645"/>
<rect x="853.87" y="86.25" width="0.8" height="54.35" fill="#089981"/>
<rect x="852.62" y="91.90" width="3.3" height="38.10" fill="#089981"/>
<rect x="858.10" y="84.00" width="0.8" height="13.50" fill="#089981"/>
<rect x="856.85" y="86.00" width="3.3" height="6.00" fill="#089981"/>
<rect x="862.34" y="69.00" width="0.8" height="17.50" fill="#089981"/>
<rect x="861.09" y="75.00" width="3.3" height="11.25" fill="#089981"/>
<rect x="866.57" y="66.90" width="0.8" height="14.60" fill="#f23645"/>
<rect x="865.32" y="75.00" width="3.3" height="3.50" fill="#f23645"/>
<rect x="870.81" y="72.25" width="0.8" height="11.50" fill="#089981"/>
<rect x="869.56" y="77.75" width="3.3" height="1.00" fill="#089981"/>
<rect x="875.04" y="73.75" width="0.8" height="5.25" fill="#089981"/>
<rect x="873.79" y="75.60" width="3.3" height="3.15" fill="#089981"/>
<rect x="879.28" y="65.60" width="0.8" height="10.40" fill="#089981"/>
<rect x="878.03" y="66.90" width="3.3" height="8.70" fill="#089981"/>
<rect x="883.51" y="63.10" width="0.8" height="17.15" fill="#f23645"/>
<rect x="882.26" y="66.90" width="3.3" height="10.35" fill="#f23645"/>
<rect x="887.75" y="73.75" width="0.8" height="18.75" fill="#f23645"/>
<rect x="886.50" y="77.25" width="3.3" height="12.15" fill="#f23645"/>
<rect x="891.98" y="55.00" width="0.8" height="38.75" fill="#089981"/>
<rect x="890.73" y="62.75" width="3.3" height="26.65" fill="#089981"/>
<rect x="896.22" y="48.40" width="0.8" height="17.00" fill="#089981"/>
<rect x="894.97" y="56.25" width="3.3" height="6.55" fill="#089981"/>
<rect x="900.46" y="54.70" width="0.8" height="21.30" fill="#f23645"/>
<rect x="899.21" y="56.25" width="3.3" height="13.85" fill="#f23645"/>
<rect x="904.69" y="66.60" width="0.8" height="4.80" fill="#089981"/>
<rect x="903.44" y="68.30" width="3.3" height="2.20" fill="#089981"/>
<rect x="908.93" y="55.90" width="0.8" height="15.50" fill="#089981"/>
<rect x="907.68" y="60.00" width="3.3" height="8.50" fill="#089981"/>
<rect x="913.16" y="55.90" width="0.8" height="18.60" fill="#f23645"/>
<rect x="911.91" y="60.00" width="3.3" height="8.00" fill="#f23645"/>
<rect x="917.40" y="59.70" width="0.8" height="14.80" fill="#089981"/>
<rect x="916.15" y="61.90" width="3.3" height="6.10" fill="#089981"/>
<rect x="921.63" y="35.90" width="0.8" height="30.80" fill="#089981"/>
<rect x="920.38" y="41.90" width="3.3" height="20.30" fill="#089981"/>
<rect x="925.87" y="39.40" width="0.8" height="6.60" fill="#f23645"/>
<rect x="924.62" y="42.20" width="3.3" height="2.80" fill="#f23645"/>
</g>
<line x1="8" y1="44.9" x2="970" y2="44.9" stroke="#f23645" stroke-width="1" stroke-dasharray="1 1.3" opacity="0.5"/>
<rect x="971" y="39" width="42.5" height="21.6" rx="1" fill="#f23645"/>
<rect x="971" y="374.3" width="22.5" height="11.6" rx="1" fill="#f05456"/>
<circle cx="925.9" cy="376.8" r="6.55" fill="#ffffff" stroke="#9c27b0" stroke-width="1.25"/>
<polygon points="929.0,372.6 927.0,372.6 923.5,377.6 926.0,377.6 923.1,381.3 929.1,376.0 926.3,376.0" fill="#9c27b0"/>
<path d="M918.6 375.5 Q919.6 378.2 922.3 379.2 Q919.6 380.2 918.6 382.9 Q917.6 380.2 914.9 379.2 Q917.6 378.2 918.6 375.5 Z" fill="#6a4ff6"/>
</svg>
<svg width="1024" height="431" viewBox="0 0 1024 431" style="will-change:transform" font-family="Liberation Sans, sans-serif">
<text x="12.77" y="11.30" font-size="8.7" fill="#131722" stroke="#131722" stroke-width="0.15" font-weight="normal" textLength="26.30" lengthAdjust="spacingAndGlyphs">Bitcoin</text>
<text x="43.95" y="11.30" font-size="8.7" fill="#131722" text-anchor="middle">/</text>
<text x="49.08" y="11.30" font-size="8.7" fill="#131722" stroke="#131722" stroke-width="0.15" font-weight="normal" textLength="15.25" lengthAdjust="spacingAndGlyphs">U.S.</text>
<text x="67.17" y="11.30" font-size="8.7" fill="#131722" stroke="#131722" stroke-width="0.15" font-weight="normal" textLength="21.55" lengthAdjust="spacingAndGlyphs">Dollar</text>
<text x="93.40" y="11.30" font-size="8.7" fill="#131722" text-anchor="middle">·</text>
<text x="99.38" y="11.30" font-size="8.7" fill="#131722" stroke="#131722" stroke-width="0.15" font-weight="normal" textLength="8.75" lengthAdjust="spacingAndGlyphs">1D</text>
<text x="111.40" y="11.30" font-size="8.7" fill="#131722" text-anchor="middle">·</text>
<text x="115.58" y="11.30" font-size="8.7" fill="#131722" stroke="#131722" stroke-width="0.15" font-weight="normal" textLength="35.65" lengthAdjust="spacingAndGlyphs">BITSTAMP</text>
<text x="156.27" y="11.30" font-size="8.7" fill="#131722" stroke="#131722" stroke-width="0.15" font-weight="normal" textLength="6.55" lengthAdjust="spacingAndGlyphs">O</text>
<text x="163.42" y="11.30" font-size="8.7" fill="#f23645" stroke="#f23645" stroke-width="0.15" font-weight="normal" textLength="29.10" lengthAdjust="spacingAndGlyphs">111,318</text>
<text x="197.17" y="11.30" font-size="8.7" fill="#131722" stroke="#131722" stroke-width="0.15" font-weight="normal" textLength="5.65" lengthAdjust="spacingAndGlyphs">H</text>
<text x="203.67" y="11.30" font-size="8.7" fill="#f23645" stroke="#f23645" stroke-width="0.15" font-weight="normal" textLength="28.75" lengthAdjust="spacingAndGlyphs">111,606</text>
<text x="237.67" y="11.30" font-size="8.7" fill="#131722" stroke="#131722" stroke-width="0.15" font-weight="normal" textLength="4.45" lengthAdjust="spacingAndGlyphs">L</text>
<text x="243.07" y="11.30" font-size="8.7" fill="#f23645" stroke="#f23645" stroke-width="0.15" font-weight="normal" textLength="28.75" lengthAdjust="spacingAndGlyphs">110,810</text>
<text x="276.48" y="11.30" font-size="8.7" fill="#131722" stroke="#131722" stroke-width="0.15" font-weight="normal" textLength="5.05" lengthAdjust="spacingAndGlyphs">C</text>
<text x="282.18" y="11.30" font-size="8.7" fill="#f23645" stroke="#f23645" stroke-width="0.15" font-weight="normal" textLength="29.25" lengthAdjust="spacingAndGlyphs">111,005</text>
<text x="316.78" y="11.30" font-size="8.7" fill="#f23645" stroke="#f23645" stroke-width="0.15" font-weight="normal" textLength="17.45" lengthAdjust="spacingAndGlyphs">−282</text>
<text x="337.68" y="11.30" font-size="8.7" fill="#f23645" stroke="#f23645" stroke-width="0.15" font-weight="normal" textLength="31.45" lengthAdjust="spacingAndGlyphs">(−0.25%)</text>
<text x="12.77" y="22.80" font-size="8.7" fill="#131722" stroke="#131722" stroke-width="0.15" font-weight="normal" textLength="11.65" lengthAdjust="spacingAndGlyphs">Vol</text>
<text x="28.40" y="22.80" font-size="8.7" fill="#131722" text-anchor="middle">·</text>
<text x="32.48" y="22.80" font-size="8.7" fill="#131722" stroke="#131722" stroke-width="0.15" font-weight="normal" textLength="14.75" lengthAdjust="spacingAndGlyphs">BTC</text>
<text x="52.48" y="22.80" font-size="8.7" fill="#f23645" stroke="#f23645" stroke-width="0.15" font-weight="normal" textLength="13.45" lengthAdjust="spacingAndGlyphs">246</text>
<text x="976.88" y="13.80" font-size="8.7" fill="#131722" stroke="#131722" stroke-width="0.15" font-weight="normal" textLength="29.85" lengthAdjust="spacingAndGlyphs">115,000</text>
<text x="976.88" y="98.20" font-size="8.7" fill="#131722" stroke="#131722" stroke-width="0.15" font-weight="normal" textLength="29.85" lengthAdjust="spacingAndGlyphs">105,000</text>
<text x="976.88" y="140.50" font-size="8.7" fill="#131722" stroke="#131722" stroke-width="0.15" font-weight="normal" textLength="29.85" lengthAdjust="spacingAndGlyphs">100,000</text>
<text x="976.88" y="182.80" font-size="8.7" fill="#131722" stroke="#131722" stroke-width="0.15" font-weight="normal" textLength="25.65" lengthAdjust="spacingAndGlyphs">95,000</text>
<text x="976.88" y="225.10" font-size="8.7" fill="#131722" stroke="#131722" stroke-width="0.15" font-weight="normal" textLength="25.65" lengthAdjust="spacingAndGlyphs">90,000</text>
<text x="976.88" y="267.40" font-size="8.7" fill="#131722" stroke="#131722" stroke-width="0.15" font-weight="normal" textLength="25.65" lengthAdjust="spacingAndGlyphs">85,000</text>
<text x="976.88" y="309.70" font-size="8.7" fill="#131722" stroke="#131722" stroke-width="0.15" font-weight="normal" textLength="25.65" lengthAdjust="spacingAndGlyphs">80,000</text>
<text x="976.88" y="352.00" font-size="8.7" fill="#131722" stroke="#131722" stroke-width="0.15" font-weight="normal" textLength="25.65" lengthAdjust="spacingAndGlyphs">75,000</text>
<text x="977.48" y="47.20" font-size="8.7" fill="#ffffff" stroke="#ffffff" stroke-width="0.15" font-weight="normal" textLength="29.45" lengthAdjust="spacingAndGlyphs">111,005</text>
<text x="977.48" y="57.80" font-size="8.7" fill="#ffffff" stroke="#ffffff" stroke-width="0.15" font-weight="normal" textLength="32.25" lengthAdjust="spacingAndGlyphs">10:34:11</text>
<text x="976.88" y="383.80" font-size="8.7" fill="#ffffff" stroke="#ffffff" stroke-width="0.15" font-weight="normal" textLength="14.05" lengthAdjust="spacingAndGlyphs">246</text>
<text x="111.80" y="399.20" font-size="9.3" fill="#131722" stroke="#131722" stroke-width="0" font-weight="bold" textLength="19.50" lengthAdjust="spacingAndGlyphs">2025</text>
<text x="245.77" y="399.20" font-size="9.3" fill="#131722" stroke="#131722" stroke-width="0.15" font-weight="normal" textLength="14.35" lengthAdjust="spacingAndGlyphs">Feb</text>
<text x="363.88" y="399.20" font-size="9.3" fill="#131722" stroke="#131722" stroke-width="0.15" font-weight="normal" textLength="14.35" lengthAdjust="spacingAndGlyphs">Mar</text>
<text x="495.57" y="399.20" font-size="9.3" fill="#131722" stroke="#131722" stroke-width="0.15" font-weight="normal" textLength="13.50" lengthAdjust="spacingAndGlyphs">Apr</text>
<text x="621.78" y="399.20" font-size="9.3" fill="#131722" stroke="#131722" stroke-width="0.15" font-weight="normal" textLength="15.30" lengthAdjust="spacingAndGlyphs">May</text>
<text x="753.78" y="399.20" font-size="9.3" fill="#131722" stroke="#131722" stroke-width="0.15" font-weight="normal" textLength="13.80" lengthAdjust="spacingAndGlyphs">Jun</text>
<text x="881.78" y="399.20" font-size="9.3" fill="#131722" stroke="#131722" stroke-width="0.15" font-weight="normal" textLength="11.65" lengthAdjust="spacingAndGlyphs">Jul</text>
<text x="23.57" y="421.80" font-size="9.2" fill="#2a2e39" stroke="#2a2e39" stroke-width="0.15" font-weight="normal" textLength="49.55" lengthAdjust="spacingAndGlyphs">TradingView</text>
<g transform="translate(7.2,413.4) scale(0.38)" fill="#131722"><path d="M14 22H7V11H0V4h14v18z"/><path d="M28 22h-8l7.5-18h8L28 22z"/><circle cx="20" cy="8" r="4"/></g>
</svg>
</body></html>
